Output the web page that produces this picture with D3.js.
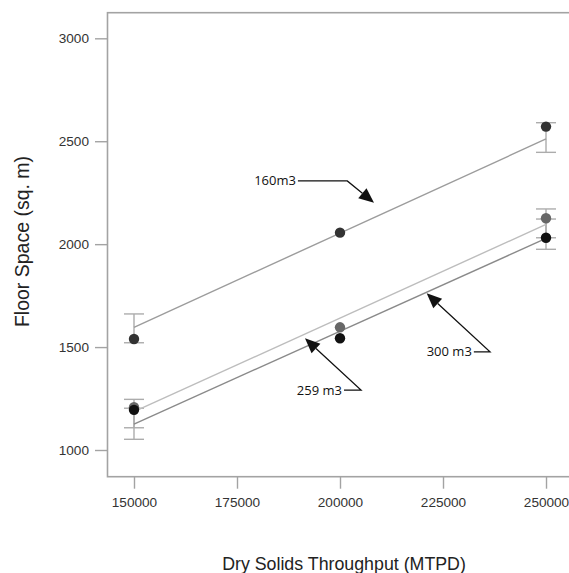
<!DOCTYPE html>
<html>
<head>
<meta charset="utf-8">
<script src="https://cdn.jsdelivr.net/npm/d3@7"></script>
<style>
  body { margin: 0; background: #fff; }
  svg { display: block; }
</style>
</head>
<body>
<div id="chart"></div>
<script>
// ---------------------------------------------------------------- data
var throughput = [150000, 200000, 250000];
var series_names = ["160m3", "259 m3", "300 m3"];
var floor_160 = [1539, 2056, 2571];
var floor_259 = [1208, 1596, 2126];
var floor_300 = [1195, 1543, 2031];
// fitted line values at 150000 and 250000
var fit_x = [150000, 250000];
var fit_160 = [1596, 2511];
var fit_259 = [1186, 2096];
var fit_300 = [1126, 2028];
// error bars: [x, low, high]
var err_160 = [[150000, 1521, 1661], [250000, 2446, 2590]];
var err_259 = [[150000, 1108, 1246], [250000, 2031, 2171]];
var err_300 = [[150000, 1052, 1203], [250000, 1975, 2122]];
var x_ticks = [150000, 175000, 200000, 225000, 250000];
var y_ticks = [1000, 1500, 2000, 2500, 3000];
// annotation anchors in data units: label end, elbow, arrow tip
var notes = [
  { text: "160m3", label: [189300, 2309], elbow: [201770, 2307], tip: [208250, 2201] },
  { text: "259 m3", label: [200480, 1291], elbow: [205100, 1291], tip: [191500, 1543] },
  { text: "300 m3", label: [232000, 1477], elbow: [236400, 1477], tip: [221040, 1761] }
];

var width = 569, height = 573;
var frame = { left: 107.5, top: 12.7, bottom: 476.7, right: 590 };

var svg = d3.select("#chart").append("svg").attr("width", width).attr("height", height);

var xScale = d3.scaleLinear().domain([143570, 258250]).range([frame.left, 580]);
var yScale = d3.scaleLinear().domain([870.3, 3124.4]).range([frame.bottom, frame.top]);

//----------------------------------------------------------------- frame and axes
svg.append("rect").attr("x", frame.left).attr("y", frame.top)
  .attr("width", frame.right - frame.left).attr("height", frame.bottom - frame.top)
  .attr("fill", "none").attr("stroke", "#a3a3a3").attr("stroke-width", 1.6);

var yAxis = svg.append("g").attr("transform", "translate(" + frame.left + ",0)")
  .call(d3.axisLeft(yScale).tickValues(y_ticks).tickSize(12.5).tickPadding(6).tickFormat(d3.format("d")));
var xAxis = svg.append("g").attr("transform", "translate(0," + frame.bottom + ")")
  .call(d3.axisBottom(xScale).tickValues(x_ticks).tickSize(12).tickPadding(9).tickFormat(d3.format("d")));
[xAxis, yAxis].forEach(function (ax) {
  ax.select(".domain").remove();
  ax.selectAll("line").attr("stroke", "#a3a3a3").attr("stroke-width", 1.4);
  ax.selectAll("text").attr("fill", "#333").attr("font-family", "Liberation Sans, Arial, sans-serif").attr("font-size", 13.6);
});

svg.append("text").attr("x", 344).attr("y", 569.5).attr("text-anchor", "middle")
  .attr("font-family", "Liberation Sans, Arial, sans-serif").attr("font-size", 17.8).attr("fill", "#222")
  .text("Dry Solids Throughput (MTPD)");
svg.append("text").attr("transform", "translate(29,241.5) rotate(-90)").attr("text-anchor", "middle")
  .attr("font-family", "Liberation Sans, Arial, sans-serif").attr("font-size", 19.5).attr("fill", "#222")
  .text("Floor Space (sq. m)");

//----------------------------------------------------------------- series
var series = [
  { name: series_names[0], pts: floor_160, fit: fit_160, err: err_160, line: "#9c9c9c", dot: "#333" },
  { name: series_names[1], pts: floor_259, fit: fit_259, err: err_259, line: "#bdbdbd", dot: "#676767" },
  { name: series_names[2], pts: floor_300, fit: fit_300, err: err_300, line: "#8a8a8a", dot: "#111" }
];

var plot = svg.append("g");
// error bars
series.forEach(function (s) {
  var g = plot.append("g").attr("stroke", "#acacac").attr("stroke-width", 1.4);
  s.err.forEach(function (e) {
    g.append("line").attr("x1", xScale(e[0])).attr("x2", xScale(e[0])).attr("y1", yScale(e[1])).attr("y2", yScale(e[2]));
    [e[1], e[2]].forEach(function (v) {
      g.append("line").attr("x1", xScale(e[0]) - 10).attr("x2", xScale(e[0]) + 10).attr("y1", yScale(v)).attr("y2", yScale(v));
    });
  });
});
// fitted lines
var lineGen = d3.line().x(function (d) { return xScale(d[0]); }).y(function (d) { return yScale(d[1]); });
series.forEach(function (s) {
  plot.append("path").datum(d3.zip(fit_x, s.fit)).attr("d", lineGen)
    .attr("fill", "none").attr("stroke", s.line).attr("stroke-width", 1.4);
});
// points (300 drawn last so it sits on top at 150000)
series.forEach(function (s) {
  plot.selectAll(null).data(d3.zip(throughput, s.pts)).join("circle")
    .attr("cx", function (d) { return xScale(d[0]); }).attr("cy", function (d) { return yScale(d[1]); })
    .attr("r", 5.2).attr("fill", s.dot);
});

//----------------------------------------------------------------- annotations
var ann = svg.append("g");
notes.forEach(function (n) {
  var lx = xScale(n.label[0]), ly = yScale(n.label[1]);
  var ex = xScale(n.elbow[0]), ey = yScale(n.elbow[1]);
  var tx = xScale(n.tip[0]), ty = yScale(n.tip[1]);
  ann.append("text").attr("x", lx).attr("y", ly).attr("dy", "0.35em").attr("text-anchor", "end")
    .attr("font-family", "Open Sans, sans-serif").attr("font-size", 13).attr("fill", "#111").text(n.text);
  var ang = Math.atan2(ty - ey, tx - ex);
  var headLen = 15, headW = 6.5;
  var bx = tx - headLen * Math.cos(ang), by = ty - headLen * Math.sin(ang);
  ann.append("path").attr("d", "M" + (lx + 2) + "," + ey + "L" + ex + "," + ey + "L" + bx + "," + by)
    .attr("fill", "none").attr("stroke", "#111").attr("stroke-width", 1.3);
  var px = -Math.sin(ang) * headW, py = Math.cos(ang) * headW;
  ann.append("path").attr("d", "M" + tx + "," + ty + "L" + (bx + px) + "," + (by + py) + "L" + (bx - px) + "," + (by - py) + "Z")
    .attr("fill", "#111");
});
</script>
</body>
</html>
